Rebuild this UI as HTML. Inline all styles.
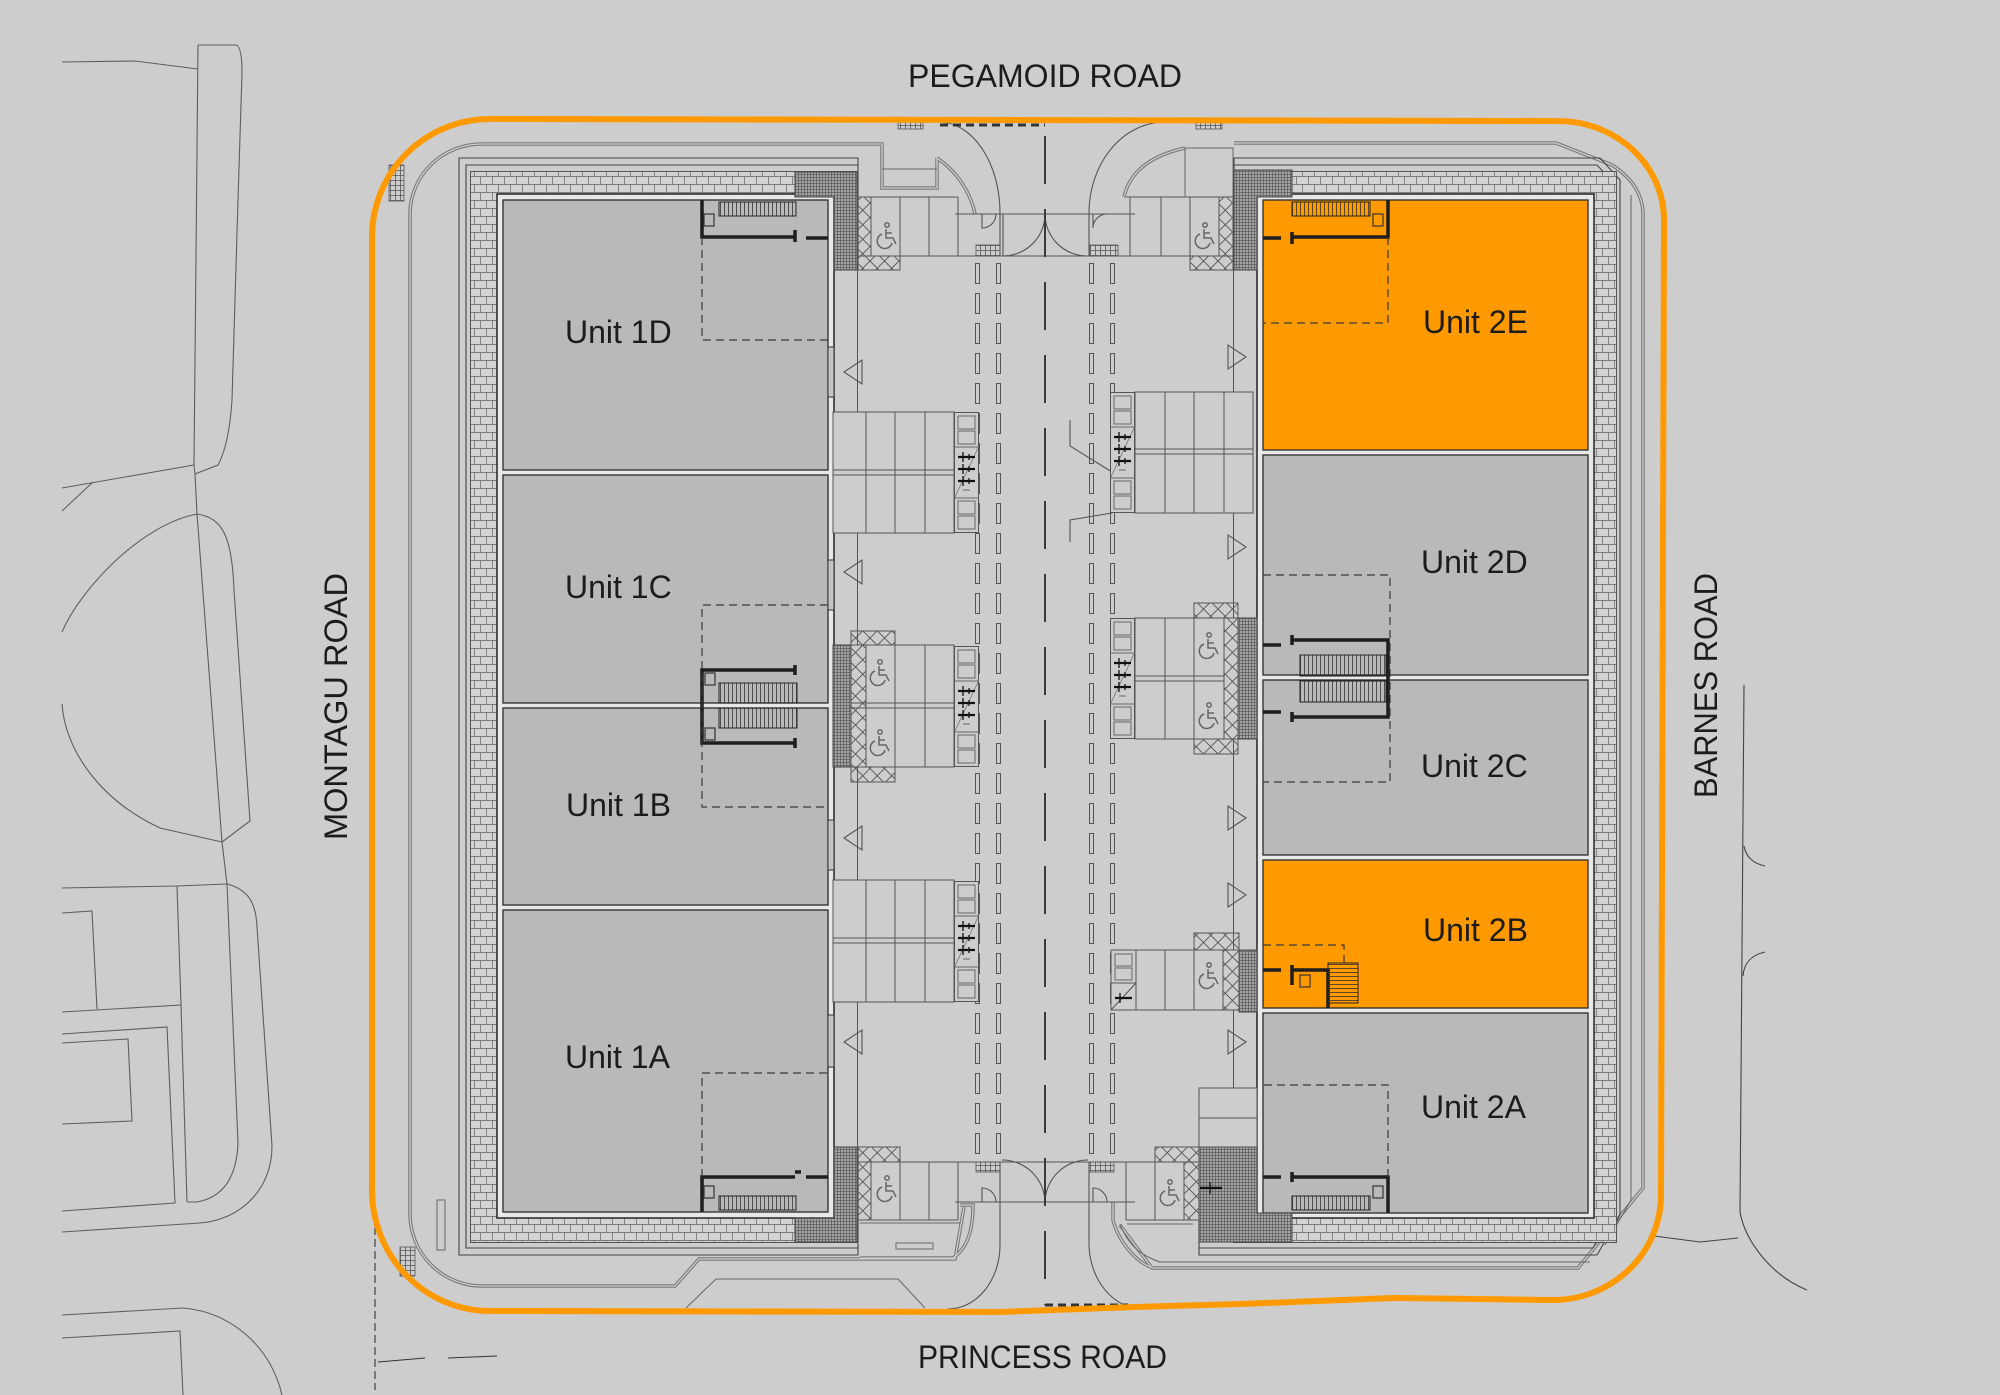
<!DOCTYPE html>
<html><head><meta charset="utf-8"><style>
html,body{margin:0;padding:0;background:#cdcdcd;overflow:hidden;}
svg{display:block;}
text{font-family:"Liberation Sans",Arial,sans-serif;fill:#1c1c1c;}
</style></head><body>
<svg width="2000" height="1395" viewBox="0 0 2000 1395" xmlns="http://www.w3.org/2000/svg">
<defs>
<pattern id="brk" width="24" height="16" patternUnits="userSpaceOnUse">
<rect width="24" height="16" fill="#d2d2d2"/>
<path d="M0,0.5H24M0,8.5H24M0.5,0V8.5M12.5,0V8.5M6.5,8.5V16M18.5,8.5V16" stroke="#7c7c7c" stroke-width="0.9" fill="none"/>
</pattern>
<pattern id="drk" width="3" height="3" patternUnits="userSpaceOnUse">
<rect width="3" height="3" fill="#a5a5a5"/>
<path d="M0,0.5H3M0.5,0V3" stroke="#5e5e5e" stroke-width="0.8"/>
</pattern>
<pattern id="xh" width="14.5" height="14.5" patternUnits="userSpaceOnUse">
<path d="M0,0L14.5,14.5M14.5,0L0,14.5" stroke="#555" stroke-width="0.9"/>
</pattern>
<pattern id="grd" width="5" height="5" patternUnits="userSpaceOnUse">
<path d="M0,0.5H5M0.5,0V5" stroke="#555" stroke-width="0.8"/>
</pattern>
<pattern id="stv" width="4" height="4" patternUnits="userSpaceOnUse"><path d="M0.5,0V4" stroke="#333" stroke-width="0.8"/></pattern>
<pattern id="sth" width="4" height="4" patternUnits="userSpaceOnUse"><path d="M0,0.5H4" stroke="#333" stroke-width="0.8"/></pattern>
<pattern id="lane" x="0" y="263" width="2000" height="30" patternUnits="userSpaceOnUse">
<g fill="none" stroke="#555" stroke-width="1">
<rect x="975.5" y="0.5" width="4" height="20"/><rect x="996.5" y="0.5" width="4" height="20"/>
<rect x="1089.5" y="0.5" width="4" height="20"/><rect x="1110.5" y="0.5" width="4" height="20"/>
</g>
</pattern>
<g id="wc" fill="none" stroke="#666" stroke-width="1.5">
<circle cx="2" cy="-10" r="2.2"/>
<path d="M1,-6 V3 H8 L11,9 M1,-2 H7"/>
<path d="M-3,-1 A7.5,7.5 0 1 0 7,8"/>
</g>
<g id="bk">
<rect x="0.5" y="0.5" width="24" height="120" fill="#cdcdcd" stroke="#555"/>
<g fill="none" stroke="#666" stroke-width="1">
<rect x="4" y="4" width="17" height="13"/><rect x="4" y="19" width="17" height="13"/>
<rect x="4" y="89" width="17" height="13"/><rect x="4" y="104" width="17" height="13"/>
<path d="M0.5,35H24.5M0.5,86H24.5"/>
<path d="M24.5,35L0.5,86" stroke-width="0.7"/>
<path d="M9,78H16"/>
</g>
<path d="M4,45H21M4,57H21M4,69H21" stroke="#111" stroke-width="2.2"/>
<path d="M9,40V50M15,42V48M9,52V62M15,54V60M9,64V74M15,66V72" stroke="#111" stroke-width="1.3"/>
</g>
</defs>

<rect width="2000" height="1395" fill="#cdcdcd"/>

<!-- context lines left -->
<g fill="none" stroke="#5e5e5e" stroke-width="1.1">
<path d="M62,62 L135,61 L198,69"/>
<path d="M198,45 L236,45 Q242,46 242,73 L238,200 L232,400 Q229,445 218,465 L195,474"/>
<path d="M198,45 L194,465"/>
<path d="M62,488 L194,465"/>
<path d="M62,511 L93,482"/>
<path d="M194,465 L195,474 L197,514 L222,842 L227,884 L238,1143 Q236,1195 197,1202 L187,1202"/>
<path d="M62,632 C80,590 140,525 197,514 C222,518 232,535 234,590 L250,821 L222,842"/>
<path d="M62,704 C65,750 100,800 160,828 L222,842"/>
<path d="M62,888 L177,886 L227,884 C250,890 256,905 257,927 L272,1146 C272,1190 240,1220 200,1223 L62,1232"/>
<path d="M177,886 L181,1005 L187,1202"/>
<path d="M62,913 L92,911 L97,1009"/>
<path d="M62,1012 L181,1005"/>
<path d="M62,1034 L167,1027 L175,1203 L62,1211"/>
<path d="M62,1043 L128,1039 L132,1121 L62,1124"/>
<path d="M62,1315 L183,1308 C230,1312 270,1345 282,1395"/>
<path d="M62,1338 L180,1331 L183,1395"/>
<path d="M375,1215 V1390" stroke-dasharray="8 4" stroke="#333"/>
<path d="M378,1362 L425,1358 M448,1358 L497,1356" stroke="#333"/>
</g>
<!-- context lines right -->
<g fill="none" stroke="#444" stroke-width="1.1">
<path d="M1744,685 L1740,1212"/>
<path d="M1744,846 C1746,858 1755,864 1765,866"/>
<path d="M1743,976 C1744,962 1752,955 1765,952"/>
<path d="M1740,1212 C1745,1240 1770,1275 1807,1290"/>
<path d="M1654,1236 L1700,1242 L1738,1238"/>
</g>

<!-- paving outlines (double) -->
<g fill="none" stroke="#7a7a7a" stroke-width="3.5">
<path d="M937,158 C955,170 970,190 975,214 M882,169 V188 H937 V158 M882,169 V144 H482 A72,70 0 0 0 410,214 V1214 A72,72 0 0 0 482,1286 H675 L699,1259 H955 L964,1207"/>
<path d="M1234,143 H1556 L1612,165 Q1643,185 1643,215 V1188 L1578,1268 H1152 L1120,1225"/>
<path d="M1185,148 C1140,158 1128,180 1124,197"/>
<path d="M960,1205 H973 C973,1235 965,1250 953,1258 H860"/>
<path d="M1113,1202 V1220 C1118,1240 1135,1262 1153,1268"/>
</g>
<g fill="none" stroke="#cdcdcd" stroke-width="1.3">
<path d="M937,158 C955,170 970,190 975,214 M882,169 V188 H937 V158 M882,169 V144 H482 A72,70 0 0 0 410,214 V1214 A72,72 0 0 0 482,1286 H675 L699,1259 H955 L964,1207"/>
<path d="M1234,143 H1556 L1612,165 Q1643,185 1643,215 V1188 L1578,1268 H1152 L1120,1225"/>
<path d="M1185,148 C1140,158 1128,180 1124,197"/>
<path d="M960,1205 H973 C973,1235 965,1250 953,1258 H860"/>
<path d="M1113,1202 V1220 C1118,1240 1135,1262 1153,1268"/>
</g>
<g fill="none" stroke="#666" stroke-width="1">
<path d="M882,169 H937"/>
<rect x="1185" y="148" width="48" height="49"/>
<path d="M1124,197 H1185"/>
<path d="M1631,195 V1200 L1605,1245"/>
<path d="M1620,185 V1210"/>
<path d="M686,1308 L716,1279 H898 L925,1308"/>
<path d="M860,1223 H960"/>
<rect x="896" y="1243" width="37" height="6"/>
<rect x="437" y="1200" width="8" height="50"/>
<path d="M1127,1224 H1193 M1120,1224 C1128,1245 1140,1255 1160,1262 H1590"/>
</g>
<!-- small grids near orange -->
<rect x="389" y="165" width="15" height="36" fill="url(#grd)" stroke="#555" stroke-width="0.8"/>
<rect x="400" y="1247" width="15" height="29" fill="url(#grd)" stroke="#555" stroke-width="0.8"/>
<rect x="898" y="122" width="25" height="7" fill="url(#grd)" stroke="#555" stroke-width="0.8"/>
<rect x="1196" y="122" width="26" height="7" fill="url(#grd)" stroke="#555" stroke-width="0.8"/>

<!-- entrance kerbs & gates -->
<g fill="none" stroke="#555" stroke-width="1.1">
<path d="M939,122 A61,91 0 0 1 1000,213 V256"/>
<path d="M1165,122 A76,91 0 0 0 1089,213 V256"/>
<path d="M955,214 H1135 M955,256 H1135"/>
<path d="M1045,214 A42,42 0 0 1 1003,256 M1003,214 V256"/>
<path d="M1045,214 A42,42 0 0 0 1087,256"/>
<path d="M982,214 V228 A14,14 0 0 0 996,214 M1093,214 V228 A14,14 0 0 1 1107,214"/>
<path d="M1000,1162 V1245 A52,64 0 0 1 948,1309"/>
<path d="M1089,1162 V1243 A54,66 0 0 0 1143,1309"/>
<path d="M955,1162 H1135 M955,1202 H1135"/>
<path d="M1002,1160 A43,43 0 0 1 1045,1202"/>
<path d="M1088,1160 A43,43 0 0 0 1045,1202"/>
<path d="M982,1202 V1188 A14,14 0 0 1 996,1202 M1093,1202 V1188 A14,14 0 0 1 1107,1202"/>
<path d="M1070,420 V446 L1112,472 M1070,542 V520 L1112,513"/>
</g>
<rect x="976" y="245" width="24" height="11" fill="url(#grd)" stroke="#555" stroke-width="0.8"/>
<rect x="1090" y="245" width="28" height="11" fill="url(#grd)" stroke="#555" stroke-width="0.8"/>
<rect x="976" y="1162" width="24" height="10" fill="url(#grd)" stroke="#555" stroke-width="0.8"/>
<rect x="1089" y="1162" width="25" height="10" fill="url(#grd)" stroke="#555" stroke-width="0.8"/>
<path d="M940,125 H1045 M1045,1305 H1128" stroke="#333" stroke-width="3" stroke-dasharray="8 5"/>

<!-- centre line and lanes -->
<path d="M1045,122 V1305" stroke="#3a3a3a" stroke-width="2" stroke-dasharray="48 25" stroke-dashoffset="59"/>
<rect x="970" y="263" width="150" height="892" fill="url(#lane)"/>

<!-- orange boundary -->
<path d="M372,1190 L372,237 A118,118 0 0 1 490,119 L1558,121 A106,99 0 0 1 1664,220 L1661,1195 A108,105 0 0 1 1553,1300 L1393,1298 L1240,1304 L1134,1307 L1000,1312 L490,1311 A118,121 0 0 1 372,1190 Z" fill="none" stroke="#ff9900" stroke-width="6"/>

<!-- ===== BUILDING 1 ===== -->
<g fill="none" stroke="#444" stroke-width="1.1">
<path d="M858,270 V158 H459 V1255 H858 V1147"/>
<path d="M858,165 H466 V1248 H858"/>
</g>
<rect x="471" y="172" width="324" height="25" fill="url(#brk)"/>
<rect x="471" y="172" width="26" height="1070" fill="url(#brk)"/>
<rect x="471" y="1218" width="324" height="24" fill="url(#brk)"/>
<rect x="470.5" y="171.5" width="387" height="1071" fill="none" stroke="#555" stroke-width="1"/>
<rect x="497" y="194" width="337" height="1024" fill="#e8e8e8" stroke="#222" stroke-width="1.5"/>
<g fill="#b9b9b9" stroke="#2a2a2a" stroke-width="1.3">
<rect x="503" y="200" width="325" height="270"/>
<rect x="503" y="475" width="325" height="228"/>
<rect x="503" y="708" width="325" height="197"/>
<rect x="503" y="910" width="325" height="302"/>
</g>
<path d="M795,172 H857 V270 H834 V197 H795Z" fill="url(#drk)" stroke="#444"/>
<path d="M795,1242 H857 V1147 H834 V1218 H795Z" fill="url(#drk)" stroke="#444"/>
<rect x="833" y="645" width="18" height="122" fill="url(#drk)" stroke="#444"/>
<!-- doors on aisle wall -->
<g fill="#c4c4c4" stroke="#333" stroke-width="1">
<rect x="828" y="347" width="6" height="50"/><rect x="828" y="560" width="6" height="50"/>
<rect x="828" y="820" width="6" height="50"/><rect x="828" y="1015" width="6" height="52"/>
<rect x="1257" y="333" width="6" height="50"/><rect x="1257" y="520" width="6" height="50"/>
<rect x="1257" y="792" width="6" height="50"/><rect x="1257" y="1020" width="6" height="52"/>
</g>
<!-- cores building 1 -->
<g fill="none" stroke="#1e1e1e" stroke-width="3.5">
<path d="M702,200 V237 H795 M795,230 V242 M806,238 H828"/>
<path d="M702,1212 V1177 H795 M795,1172 H801 M806,1177 H828"/>
<path d="M795,670 H702 V743 H795 M795,665 V675 M795,738 V748"/>
</g>
<rect x="719" y="202" width="77" height="14" fill="url(#stv)" stroke="#222"/>
<rect x="719" y="1196" width="77" height="14" fill="url(#stv)" stroke="#222"/>
<rect x="719" y="683" width="78" height="20" fill="url(#stv)" stroke="#222"/>
<rect x="719" y="708" width="78" height="20" fill="url(#stv)" stroke="#222"/>
<g fill="none" stroke="#333" stroke-width="1.2">
<rect x="704" y="214" width="10" height="12"/><rect x="704" y="1186" width="10" height="12"/>
<rect x="705" y="673" width="10" height="12"/><rect x="705" y="728" width="10" height="12"/>
</g>
<g fill="none" stroke="#3a3a3a" stroke-width="1.2" stroke-dasharray="8 5">
<path d="M702,237 V340 H828"/>
<path d="M702,1177 V1073 H828"/>
<path d="M828,605 H702 V807 H828"/>
</g>

<!-- ===== BUILDING 2 ===== -->
<g fill="none" stroke="#444" stroke-width="1.1">
<path d="M1234,270 V158 H1600 L1620,180 V1215 L1597,1255 H1199 V1147"/>
<path d="M1234,165 H1597 L1613,182 V1212 L1593,1248 H1199"/>
</g>
<rect x="1292" y="172" width="324" height="25" fill="url(#brk)"/>
<rect x="1591" y="172" width="25" height="1070" fill="url(#brk)"/>
<rect x="1292" y="1218" width="324" height="24" fill="url(#brk)"/>
<rect x="1233.5" y="171.5" width="383" height="1071" fill="none" stroke="#555" stroke-width="1"/>
<rect x="1257" y="194" width="337" height="1024" fill="#e8e8e8" stroke="#222" stroke-width="1.5"/>
<g stroke="#2a2a2a" stroke-width="1.3">
<rect x="1263" y="200" width="325" height="250" fill="#ff9900"/>
<rect x="1263" y="455" width="325" height="220" fill="#b9b9b9"/>
<rect x="1263" y="680" width="325" height="175" fill="#b9b9b9"/>
<rect x="1263" y="860" width="325" height="148" fill="#ff9900"/>
<rect x="1263" y="1013" width="325" height="200" fill="#b9b9b9"/>
</g>
<path d="M1234,170 H1292 V197 H1257 V270 H1234Z" fill="url(#drk)" stroke="#444"/>
<path d="M1199,1147 H1257 V1213 H1292 V1242 H1199Z" fill="url(#drk)" stroke="#444"/>
<rect x="1238" y="618" width="19" height="121" fill="url(#drk)" stroke="#444"/>
<rect x="1239" y="950" width="18" height="62" fill="url(#drk)" stroke="#444"/>
<!-- cores building 2 -->
<g fill="none" stroke="#1e1e1e" stroke-width="3.5">
<path d="M1388,200 V237 H1292 M1292,232 V244 M1263,238 H1281"/>
<path d="M1388,1213 V1177 H1292 M1292,1172 V1182 M1263,1177 H1281"/>
<path d="M1292,640 H1388 V717 H1292 M1292,635 V645 M1292,712 V722 M1263,645 H1281 M1263,712 H1281"/>
<path d="M1292,970 H1328 V1008 M1292,965 V985 M1263,970 H1281"/>
</g>
<rect x="1292" y="202" width="78" height="14" fill="url(#stv)" stroke="#222"/>
<rect x="1292" y="1196" width="78" height="14" fill="url(#stv)" stroke="#222"/>
<rect x="1300" y="655" width="86" height="21" fill="url(#stv)" stroke="#222"/>
<rect x="1300" y="681" width="86" height="21" fill="url(#stv)" stroke="#222"/>
<rect x="1328" y="963" width="30" height="40" fill="url(#sth)" stroke="#222"/>
<g fill="none" stroke="#333" stroke-width="1.2">
<rect x="1373" y="214" width="10" height="12"/><rect x="1373" y="1186" width="10" height="12"/>
<rect x="1300" y="975" width="10" height="12"/>
</g>
<g fill="none" stroke="#3a3a3a" stroke-width="1.2" stroke-dasharray="8 5">
<path d="M1388,237 V323 H1263"/>
<path d="M1388,1177 V1085 H1263"/>
<path d="M1263,575 H1390 V782 H1263"/>
<path d="M1263,945 H1344 V963"/>
</g>

<!-- ===== PARKING ===== -->
<g stroke="#555" stroke-width="1">
<!-- top-left bays -->
<rect x="857" y="197" width="14" height="59" fill="url(#xh)"/>
<rect x="857" y="256" width="43" height="14" fill="url(#xh)"/>
<path d="M857,197 H958 M857,256 H958 M871,197 V256 M900,197 V256 M929,197 V256 M958,197 V256" fill="none"/>
<!-- top-right bays -->
<rect x="1219" y="197" width="14" height="59" fill="url(#xh)"/>
<rect x="1190" y="256" width="43" height="14" fill="url(#xh)"/>
<path d="M1130,197 H1233 M1130,256 H1233 M1130,197 V256 M1161,197 V256 M1190,197 V256 M1219,197 V256" fill="none"/>
<!-- bottom-left bays -->
<rect x="857" y="1162" width="14" height="58" fill="url(#xh)"/>
<rect x="857" y="1147" width="43" height="15" fill="url(#xh)"/>
<path d="M857,1162 H958 M857,1220 H958 M871,1162 V1220 M900,1162 V1220 M929,1162 V1220 M958,1162 V1220" fill="none"/>
<!-- bottom-right bays -->
<rect x="1184" y="1162" width="15" height="58" fill="url(#xh)"/>
<rect x="1155" y="1147" width="44" height="15" fill="url(#xh)"/>
<path d="M1126,1162 H1199 M1126,1220 H1199 M1126,1162 V1220 M1155,1162 V1220" fill="none"/>
<rect x="1199" y="1088" width="58" height="30" fill="#cdcdcd"/>
<rect x="1199" y="1118" width="58" height="29" fill="#cdcdcd"/>
</g>
<g stroke="#555" stroke-width="1" fill="none">
<!-- left block 1 -->
<rect x="833" y="412" width="121" height="121" fill="#cdcdcd"/>
<path d="M833,470 H954 M833,475 H954 M866,412 V533 M895,412 V533 M925,412 V533"/>
<!-- left block 3 -->
<rect x="833" y="880" width="121" height="122" fill="#cdcdcd"/>
<path d="M833,938 H954 M833,943 H954 M866,880 V1002 M895,880 V1002 M925,880 V1002"/>
<!-- left block 2 -->
<rect x="851" y="645" width="103" height="122" fill="#cdcdcd"/>
<rect x="851" y="645" width="15" height="122" fill="url(#xh)"/>
<rect x="851" y="631" width="44" height="14" fill="url(#xh)"/>
<rect x="851" y="767" width="44" height="15" fill="url(#xh)"/>
<path d="M851,703 H954 M851,708 H954 M895,645 V767 M925,645 V767"/>
<!-- right block A -->
<rect x="1135" y="392" width="118" height="121" fill="#cdcdcd"/>
<path d="M1135,449 H1253 M1135,454 H1253 M1165,392 V513 M1194,392 V513 M1224,392 V513"/>
<!-- right block B -->
<rect x="1135" y="618" width="103" height="121" fill="#cdcdcd"/>
<rect x="1224" y="618" width="14" height="121" fill="url(#xh)"/>
<rect x="1194" y="603" width="44" height="15" fill="url(#xh)"/>
<rect x="1194" y="739" width="44" height="15" fill="url(#xh)"/>
<path d="M1135,676 H1224 M1135,681 H1224 M1165,618 V739 M1194,618 V739"/>
<!-- right block C -->
<rect x="1136" y="950" width="103" height="60" fill="#cdcdcd"/>
<rect x="1223" y="950" width="16" height="60" fill="url(#xh)"/>
<rect x="1194" y="933" width="45" height="17" fill="url(#xh)"/>
<path d="M1165,950 V1010 M1194,950 V1010"/>
<rect x="1111" y="950" width="25" height="60" fill="#cdcdcd"/>
<rect x="1115" y="954" width="17" height="12" stroke="#666"/>
<rect x="1115" y="968" width="17" height="12" stroke="#666"/>
<path d="M1111,983 H1136 M1136,983 L1111,1010"/>
</g>
<path d="M1115,998 H1132" stroke="#111" stroke-width="2.2"/>
<path d="M1120,993 V1003" stroke="#111" stroke-width="1.3"/>
<path d="M1200,1188 H1222" stroke="#111" stroke-width="2.2"/>
<path d="M1210,1182 V1194" stroke="#111" stroke-width="1.3"/>
<use href="#bk" x="954" y="412"/>
<use href="#bk" x="954" y="646"/>
<use href="#bk" x="954" y="881"/>
<use href="#bk" x="1110" y="392"/>
<use href="#bk" x="1110" y="618"/>
<!-- wheelchairs -->
<use href="#wc" x="885" y="235"/>
<use href="#wc" x="1203" y="235"/>
<use href="#wc" x="878" y="672"/>
<use href="#wc" x="878" y="742"/>
<use href="#wc" x="1207" y="645"/>
<use href="#wc" x="1207" y="715"/>
<use href="#wc" x="1207" y="975"/>
<use href="#wc" x="885" y="1188"/>
<use href="#wc" x="1168" y="1192"/>
<!-- triangles -->
<g fill="none" stroke="#555" stroke-width="1.1">
<path d="M862,360 V384 L844,372Z"/>
<path d="M862,560 V584 L844,572Z"/>
<path d="M862,826 V850 L844,838Z"/>
<path d="M862,1030 V1054 L844,1042Z"/>
<path d="M1228,345 V369 L1246,357Z"/>
<path d="M1228,535 V559 L1246,547Z"/>
<path d="M1228,806 V830 L1246,818Z"/>
<path d="M1228,883 V907 L1246,895Z"/>
<path d="M1228,1030 V1054 L1246,1042Z"/>
</g>

<!-- labels -->
<g font-size="32">
<text x="565" y="343">Unit 1D</text>
<text x="565" y="598">Unit 1C</text>
<text x="566" y="816">Unit 1B</text>
<text x="565" y="1068">Unit 1A</text>
<text x="1423" y="333">Unit 2E</text>
<text x="1421" y="573">Unit 2D</text>
<text x="1421" y="777">Unit 2C</text>
<text x="1423" y="941">Unit 2B</text>
<text x="1421" y="1118">Unit 2A</text>
<text x="908" y="87" textLength="274" lengthAdjust="spacingAndGlyphs">PEGAMOID ROAD</text>
<text x="918" y="1368" textLength="249" lengthAdjust="spacingAndGlyphs">PRINCESS ROAD</text>
<text transform="translate(347,840) rotate(-90)" textLength="267" lengthAdjust="spacingAndGlyphs">MONTAGU ROAD</text>
<text transform="translate(1717,798) rotate(-90)" textLength="225" lengthAdjust="spacingAndGlyphs">BARNES ROAD</text>
</g>
</svg>
</body></html>
